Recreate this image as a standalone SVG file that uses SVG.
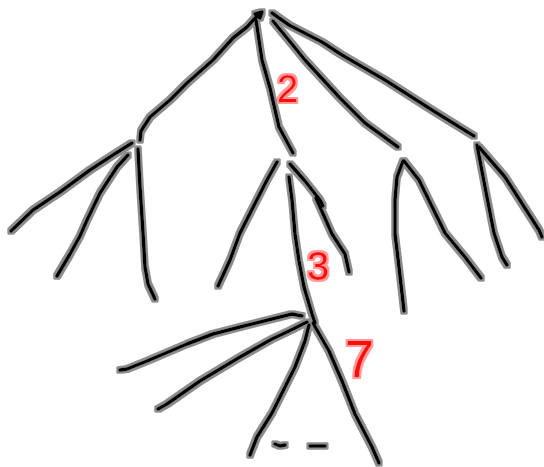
<svg xmlns="http://www.w3.org/2000/svg" width="544" height="467" viewBox="0 0 544 467">
<style>
.ink{fill:none;stroke:#000;stroke-width:3.5;stroke-linecap:round;stroke-linejoin:round}
.lbl{font-family:"Liberation Sans",Arial,sans-serif;fill:#ff1010}
</style>
<defs>
<filter id="halo" x="-5%" y="-5%" width="110%" height="110%">
<feMorphology in="SourceAlpha" operator="dilate" radius="1.8" result="d"/>
<feFlood flood-color="#8c8c8c"/>
<feComposite in2="d" operator="in" result="g"/>
<feMerge><feMergeNode in="g"/><feMergeNode in="SourceGraphic"/></feMerge>
</filter>
<filter id="redhalo" x="-20%" y="-20%" width="140%" height="140%">
<feMorphology in="SourceAlpha" operator="dilate" radius="1.8" result="d"/>
<feFlood flood-color="#ff9a9a"/>
<feComposite in2="d" operator="in" result="g"/>
<feMerge><feMergeNode in="g"/><feMergeNode in="SourceGraphic"/></feMerge>
</filter>
</defs>
<rect width="544" height="467" fill="#fff"/>
<g id="connectors" class="ink" filter="url(#halo)">
<path d="M255,14 L262,12 L260,18 L256,15"/>
<path d="M257,16 L247,27 L233,38 L213,60 L187,83 L170,100 L150,117 L141,131 L140,140"/>
<path d="M256,20 L262,60 L270,88 L279,127 L293,153"/>
<path d="M273,21 L305,60 L339,97 L365,123 L398,147"/>
<path d="M272,13 L289,25 L322,42 L342,55 L385,80 L432,110 L474,136"/>
<path d="M132,143 L113,155 L90,170 L60,192 L33,210 L11,231"/>
<path d="M128,155 L117,167 L100,193 L87,220 L80,236 L70,254 L57,276"/>
<path d="M138,149 L140,187 L143,233 L145,267 L148,284 L155,299"/>
<path d="M277,162 L267,180 L240,233 L230,260 L218,286"/>
<path d="M289,177 L292,200 L295,234 L299,261 L304,287 L312,314 L315,323"/>
<path d="M290,164 L305,181 L320,200 L323,206"/>
<path d="M316,198 L332,234 L345,254 L349,272"/>
<path d="M403,161 L397,177 L395,200 L395,234 L399,267 L404,311"/>
<path d="M404,161 L419,180 L445,233 L465,257 L481,278"/>
<path d="M477,145 L485,187 L494,233 L502,257 L507,265"/>
<path d="M479,147 L505,177 L539,230 L542,237"/>
<path d="M302,316 L292,314 L272,319 L240,327 L213,334 L187,344 L147,361 L127,369 L120,370"/>
<path d="M307,322 L289,331 L272,339 L240,357 L200,381 L167,404 L158,409"/>
<path d="M309,325 L305,341 L295,367 L272,413 L257,437 L250,455"/>
<path d="M313,323 L329,351 L342,381 L355,414 L372,447 L379,463"/>
<path d="M275,444 L280,446 L285,445"/>
<path d="M310,446 L325,446"/>
</g>
<g id="label-2" filter="url(#redhalo)"><text class="lbl" x="277" y="102" font-size="38">2</text></g>
<g id="label-3" filter="url(#redhalo)"><text class="lbl" x="307" y="280" font-size="40">3</text></g>
<g id="label-7" filter="url(#redhalo)"><text class="lbl" x="345" y="377" font-size="52">7</text></g>
</svg>
